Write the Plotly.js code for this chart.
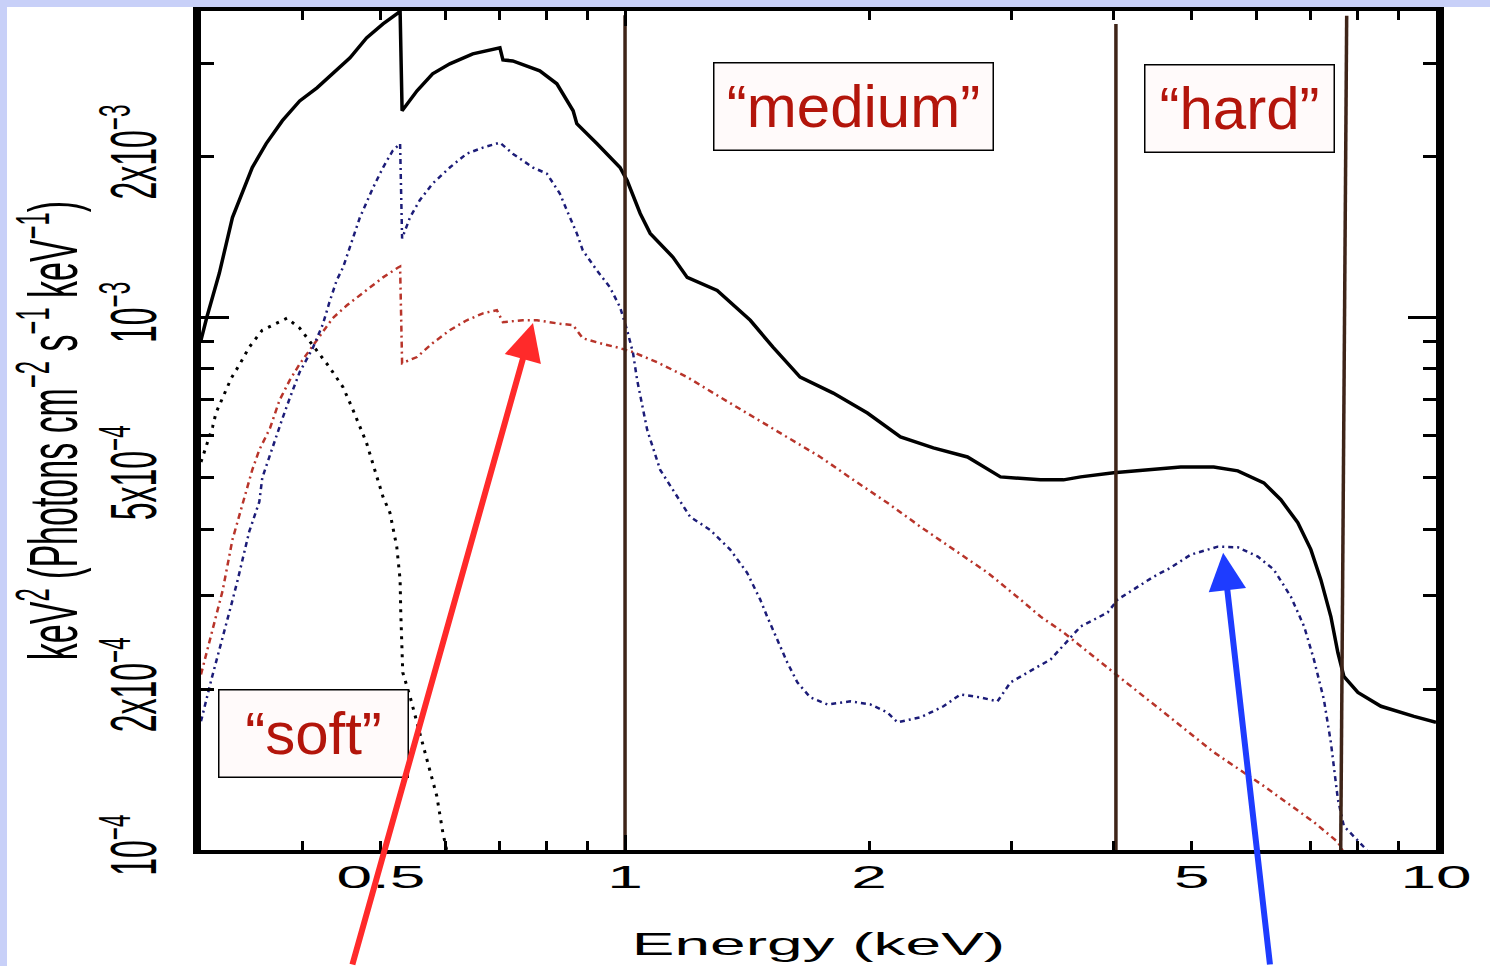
<!DOCTYPE html>
<html><head><meta charset="utf-8">
<script src="https://cdn.plot.ly/plotly-3.0.1.min.js"></script>
<style>
html,body{margin:0;padding:0;background:#c8d0f8;width:1490px;height:966px;overflow:hidden;}
#chart{position:absolute;left:7px;top:7px;width:1483px;height:959px;background:#fff;}
</style></head><body><div id="chart"></div>
<script>
// ---------------- data ----------------
const totalE = [0.3,0.305,0.316,0.328,0.347,0.361,0.378,0.397,0.417,0.436,0.458,0.480,0.503,0.525,0.528,0.531,0.554,0.579,0.608,0.649,0.687,0.701,0.707,0.727,0.785,0.824,0.863,0.872,0.923,0.986,1.006,1.044,1.074,1.146,1.193,1.299,1.427,1.522,1.644,1.806,1.990,2.186,2.400,2.644,2.904,3.253,3.473,3.646,4.004,4.410,4.844,5.320,5.696,6.134,6.437,6.755,7.010,7.211,7.419,7.568,7.698,8.011,8.553,9.394,10.0];
const totalF = [9.06e-4,1.0e-3,1.209e-3,1.539e-3,1.910e-3,2.118e-3,2.339e-3,2.547e-3,2.696e-3,2.864e-3,3.068e-3,3.344e-3,3.553e-3,3.725e-3,3.76e-3,2.441e-3,2.661e-3,2.864e-3,2.990e-3,3.122e-3,3.190e-3,3.204e-3,3.041e-3,3.028e-3,2.900e-3,2.743e-3,2.441e-3,2.309e-3,2.118e-3,1.910e-3,1.805e-3,1.566e-3,1.437e-3,1.296e-3,1.188e-3,1.123e-3,9.87e-4,8.785e-4,7.72e-4,7.205e-4,6.61e-4,5.96e-4,5.685e-4,5.467e-4,5.016e-4,4.952e-4,4.952e-4,5.016e-4,5.104e-4,5.17e-4,5.237e-4,5.237e-4,5.148e-4,4.888e-4,4.544e-4,4.114e-4,3.663e-4,3.217e-4,2.743e-4,2.348e-4,2.117e-4,1.976e-4,1.861e-4,1.782e-4,1.737e-4];

const softE = [0.3,0.310,0.313,0.327,0.335,0.344,0.357,0.383,0.397,0.412,0.432,0.449,0.462,0.480,0.494,0.503,0.513,0.523,0.528,0.529,0.532,0.543,0.558,0.574,0.586,0.596,0.603,0.607];
const softF = [5.35e-4,6.22e-4,6.61e-4,7.69e-4,8.17e-4,8.785e-4,9.455e-4,9.96e-4,9.54e-4,8.86e-4,8.06e-4,7.39e-4,6.694e-4,5.81e-4,5.016e-4,4.60e-4,4.295e-4,3.71e-4,3.217e-4,2.79e-4,2.154e-4,1.943e-4,1.663e-4,1.418e-4,1.262e-4,1.08e-4,1.0e-4,9.5e-5];

const blueE = [0.3,0.305,0.309,0.327,0.333,0.344,0.354,0.357,0.368,0.377,0.386,0.397,0.412,0.424,0.432,0.441,0.449,0.458,0.471,0.489,0.503,0.517,0.528,0.531,0.543,0.558,0.579,0.608,0.638,0.668,0.701,0.727,0.770,0.801,0.831,0.848,0.872,0.887,0.923,0.958,0.986,1.006,1.023,1.035,1.065,1.105,1.159,1.203,1.273,1.348,1.414,1.468,1.497,1.540,1.585,1.631,1.692,1.776,1.896,2.007,2.106,2.167,2.313,2.470,2.592,2.744,2.879,2.988,3.226,3.348,3.646,3.936,4.049,4.202,4.486,4.708,4.983,5.381,5.696,6.030,6.31,6.622,6.877,7.07,7.273,7.419,7.482,7.568,7.698,7.92,8.149,8.3];
const blueF = [1.744e-4,1.943e-4,2.09e-4,2.888e-4,3.217e-4,3.958e-4,4.503e-4,4.994e-4,5.733e-4,6.38e-4,7.05e-4,7.89e-4,8.75e-4,9.70e-4,1.067e-3,1.173e-3,1.240e-3,1.352e-3,1.539e-3,1.751e-3,1.910e-3,2.054e-3,2.118e-3,1.406e-3,1.539e-3,1.656e-3,1.782e-3,1.910e-3,2.028e-3,2.082e-3,2.127e-3,2.028e-3,1.910e-3,1.860e-3,1.707e-3,1.586e-3,1.437e-3,1.335e-3,1.225e-3,1.138e-3,1.044e-3,9.455e-4,8.565e-4,7.62e-4,6.143e-4,5.17e-4,4.60e-4,4.22e-4,3.99e-4,3.663e-4,3.316e-4,2.951e-4,2.743e-4,2.484e-4,2.25e-4,2.064e-4,1.934e-4,1.876e-4,1.901e-4,1.876e-4,1.813e-4,1.737e-4,1.774e-4,1.861e-4,1.959e-4,1.934e-4,1.901e-4,2.064e-4,2.211e-4,2.279e-4,2.627e-4,2.79e-4,2.951e-4,3.055e-4,3.259e-4,3.388e-4,3.584e-4,3.71e-4,3.70e-4,3.554e-4,3.36e-4,2.99e-4,2.627e-4,2.279e-4,1.918e-4,1.593e-4,1.418e-4,1.246e-4,1.109e-4,1.062e-4,1.013e-4,9.8e-5];

const redE = [0.3,0.310,0.319,0.328,0.338,0.347,0.354,0.365,0.375,0.386,0.397,0.412,0.424,0.436,0.454,0.480,0.503,0.525,0.528,0.531,0.554,0.579,0.608,0.638,0.668,0.695,0.707,0.748,0.779,0.824,0.863,0.887,0.931,0.986,1.023,1.095,1.193,1.310,1.439,1.585,1.741,1.912,2.106,2.313,2.541,2.799,3.074,3.253,3.473,4.004,4.616,5.32,6.134,7.07,7.568,7.72];
const redF = [2.136e-4,2.582e-4,3.068e-4,3.823e-4,4.503e-4,5.17e-4,5.636e-4,6.196e-4,6.99e-4,7.62e-4,8.17e-4,8.82e-4,9.37e-4,9.96e-4,1.053e-3,1.123e-3,1.188e-3,1.240e-3,1.245e-3,8.20e-4,8.42e-4,8.94e-4,9.455e-4,9.87e-4,1.017e-3,1.031e-3,9.79e-4,9.87e-4,9.87e-4,9.74e-4,9.66e-4,9.13e-4,8.94e-4,8.75e-4,8.60e-4,8.235e-4,7.72e-4,7.08e-4,6.495e-4,5.96e-4,5.467e-4,4.952e-4,4.485e-4,4.044e-4,3.663e-4,3.316e-4,2.951e-4,2.743e-4,2.56e-4,2.154e-4,1.813e-4,1.526e-4,1.318e-4,1.128e-4,1.035e-4,9.8e-5];

// band boundaries (keV) : bottom and top end of each boundary line
const bandEdgeLow  = [1.0, 4.03, 7.63];
const bandEdgeHigh = [1.0, 4.03, 7.76];
const bandLineTop  = [3.69e-3, 3.55e-3, 3.68e-3];
const bandLineBottom = 1e-4;

const bandNames = ['\u201csoft\u201d', '\u201cmedium\u201d', '\u201chard\u201d'];

// tick values / labels
const xTickVals = [0.5,1,2,5,10];
const xTickText = ['0.5','1','2','5','10'];
const xMinorTicks = [0.4,0.6,0.7,0.8,0.9,3,4,6,7,8,9];
const xMajorTicks = [1,10];
const yTickVals = [1e-4,2e-4,5e-4,1e-3,2e-3];
const yTickText = ['10<sup>\u22124</sup>','2x10<sup>\u22124</sup>','5x10<sup>\u22124</sup>','10<sup>\u22123</sup>','2x10<sup>\u22123</sup>'];
const yMinorTicks = [3e-4,4e-4,6e-4,7e-4,8e-4,9e-4,3e-3];
const yMajorTicks = [1e-4,1e-3];

// ---------------- build ----------------
const FONT = '"Liberation Sans", Arial, Helvetica, sans-serif';
const XR = [Math.log10(0.3), 1];
const YR = [-4, Math.log10(3.757e-3)];

const bx = [], by = [];
bandEdgeLow.forEach((e, i) => {
  bx.push(e, bandEdgeHigh[i], null);
  by.push(bandLineBottom, bandLineTop[i], null);
});

const data = [
  {x: redE, y: redF, type: 'scatter', mode: 'lines', line: {color: '#b8342a', width: 2.5, dash: '6px,4px,2px,4px'}, hoverinfo: 'skip'},
  {x: blueE, y: blueF, type: 'scatter', mode: 'lines', line: {color: '#1c1c78', width: 2.5, dash: '5px,4px,2px,4px'}, hoverinfo: 'skip'},
  {x: softE, y: softF, type: 'scatter', mode: 'lines', line: {color: '#000', width: 3, dash: '3px,6px'}, hoverinfo: 'skip'},
  {x: totalE, y: totalF, type: 'scatter', mode: 'lines', line: {color: '#000', width: 3.5}, hoverinfo: 'skip'},
  {x: bx, y: by, xaxis: 'x2', yaxis: 'y2', type: 'scatter', mode: 'lines', line: {color: '#3e2418', width: 3.5}, hoverinfo: 'skip'}
];

const boxCommon = {showarrow: false, font: {size: 60, color: '#b3150b', family: FONT}, bgcolor: '#fffafa', bordercolor: '#000', borderwidth: 1.5, borderpad: 0, xref: 'x', yref: 'y', align: 'center', valign: 'middle'};

const layout = {
  width: 1483, height: 959,
  margin: {l: 194, r: 54, t: 4, b: 116},
  paper_bgcolor: '#fff', plot_bgcolor: '#fff', showlegend: false,
  font: {family: FONT, color: '#000'},
  xaxis: {type: 'log', range: XR, tickmode: 'array', tickvals: xTickVals, ticktext: xTickText,
    ticks: 'inside', ticklen: 9, tickwidth: 3, tickcolor: '#000', showline: true, linewidth: 4, linecolor: '#000',
    minor: {tickmode: 'array', tickvals: xMinorTicks, ticks: 'inside', ticklen: 9, tickwidth: 3, tickcolor: '#000', showgrid: false},
    mirror: 'allticks', showgrid: false, zeroline: false, tickfont: {size: 32, family: FONT}, ticklabelstandoff: -4,
    title: {text: 'Energy (keV)', font: {size: 32, family: FONT}, standoff: 39}},
  yaxis: {type: 'log', range: YR, tickmode: 'array', tickvals: yTickVals, ticktext: yTickText, tickangle: -90,
    ticks: 'inside', ticklen: 13, tickwidth: 3, tickcolor: '#000', showline: true, linewidth: 8, linecolor: '#000',
    minor: {tickmode: 'array', tickvals: yMinorTicks, ticks: 'inside', ticklen: 13, tickwidth: 3, tickcolor: '#000', showgrid: false},
    mirror: 'allticks', showgrid: false, zeroline: false, tickfont: {size: 32, family: FONT}, ticklabelstandoff: 37,
    title: {text: 'keV<sup>2</sup> (Photons cm<sup>\u22122</sup> s<sup>\u22121</sup> keV<sup>\u22121</sup>)', font: {size: 34, family: FONT}, standoff: 39}},
  xaxis2: {type: 'log', overlaying: 'x', anchor: 'y2', range: XR, tickmode: 'array', tickvals: xMajorTicks,
    ticks: 'inside', ticklen: 15, tickwidth: 3, tickcolor: '#000', showticklabels: false, showline: false,
    mirror: 'allticks', showgrid: false, zeroline: false},
  yaxis2: {type: 'log', overlaying: 'y', anchor: 'x2', range: YR, tickmode: 'array', tickvals: yMajorTicks,
    ticks: 'inside', ticklen: 28, tickwidth: 3, tickcolor: '#000', showticklabels: false, showline: false,
    mirror: 'allticks', showgrid: false, zeroline: false},
  annotations: [
    Object.assign({}, boxCommon, {x: Math.log10(0.4124), y: Math.log10(1.658e-4), text: bandNames[0], width: 188, height: 86}),
    Object.assign({}, boxCommon, {x: Math.log10(1.913), y: Math.log10(2.487e-3), text: bandNames[1], width: 278, height: 86}),
    Object.assign({}, boxCommon, {x: Math.log10(5.716), y: Math.log10(2.466e-3), text: bandNames[2], width: 188, height: 86}),
    {xref: 'x', yref: 'y', x: Math.log10(0.770), y: Math.log10(9.757e-4), text: '', showarrow: true, axref: 'pixel', ayref: 'pixel',
     ax: -181, ay: 660, arrowcolor: '#ff2a2a', arrowwidth: 6, arrowhead: 2, arrowsize: 1.25, standoff: 0},
    {xref: 'x', yref: 'y', x: Math.log10(5.464), y: Math.log10(3.612e-4), text: '', showarrow: true, axref: 'pixel', ayref: 'pixel',
     ax: 47, ay: 430, arrowcolor: '#1e3cff', arrowwidth: 6, arrowhead: 2, arrowsize: 1.25, standoff: 0}
  ]
};

Plotly.newPlot('chart', data, layout, {staticPlot: true, displayModeBar: false}).then(gd => {
  const sx = 2.0;
  gd.querySelectorAll('.xtick text, .ytick text, .g-xtitle text, .g-ytitle text').forEach(el => {
    const r = el.getBoundingClientRect();
    if (!r.width) return;
    const m = el.parentNode.getScreenCTM();
    const cx = (r.left + r.width / 2 - m.e) / m.a;
    const cy = (r.top + r.height / 2 - m.f) / m.d;
    const old = el.getAttribute('transform') || '';
    el.setAttribute('transform', `translate(${cx},${cy}) scale(${sx},1) translate(${-cx},${-cy}) ${old}`);
  });
});
</script></body></html>
